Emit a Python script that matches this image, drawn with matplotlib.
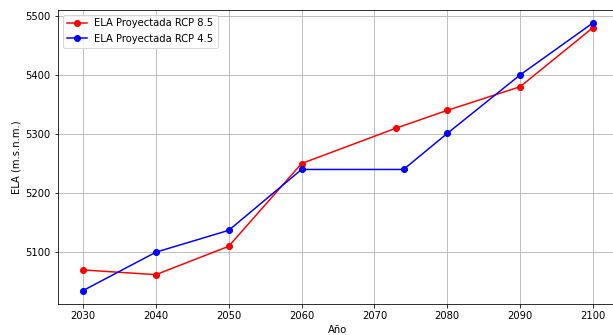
import matplotlib
matplotlib.use("Agg")
import matplotlib.pyplot as plt

# Proyección de la ELA bajo dos escenarios
anios_85 = [2030, 2040, 2050, 2060, 2073, 2080, 2090, 2100]
ela_85 = [5070, 5062, 5110, 5250, 5310, 5340, 5380, 5480]

anios_45 = [2030, 2040, 2050, 2060, 2074, 2080, 2090, 2100]
ela_45 = [5035, 5100, 5137, 5240, 5240, 5301, 5400, 5488]

DPI = 72
W, H = 613, 335
fig = plt.figure(figsize=(W / DPI, H / DPI), dpi=DPI)
ax = fig.add_axes([57.5 / W, (H - 304) / H, (618.5 - 57.5) / W, (304 - 9.5) / H])

ax.plot(anios_85, ela_85, marker="o", color="red", label="ELA Proyectada RCP 8.5")
ax.plot(anios_45, ela_45, marker="o", color="blue", label="ELA Proyectada RCP 4.5")

ax.set_xticks([2030, 2040, 2050, 2060, 2070, 2080, 2090, 2100])
ax.set_yticks([5100, 5200, 5300, 5400, 5500])
ax.set_xlabel("Año")
ax.set_ylabel("ELA (m.s.n.m.)")
ax.grid(True)
ax.legend(loc="upper left")

fig.savefig("out.png", dpi=DPI)
